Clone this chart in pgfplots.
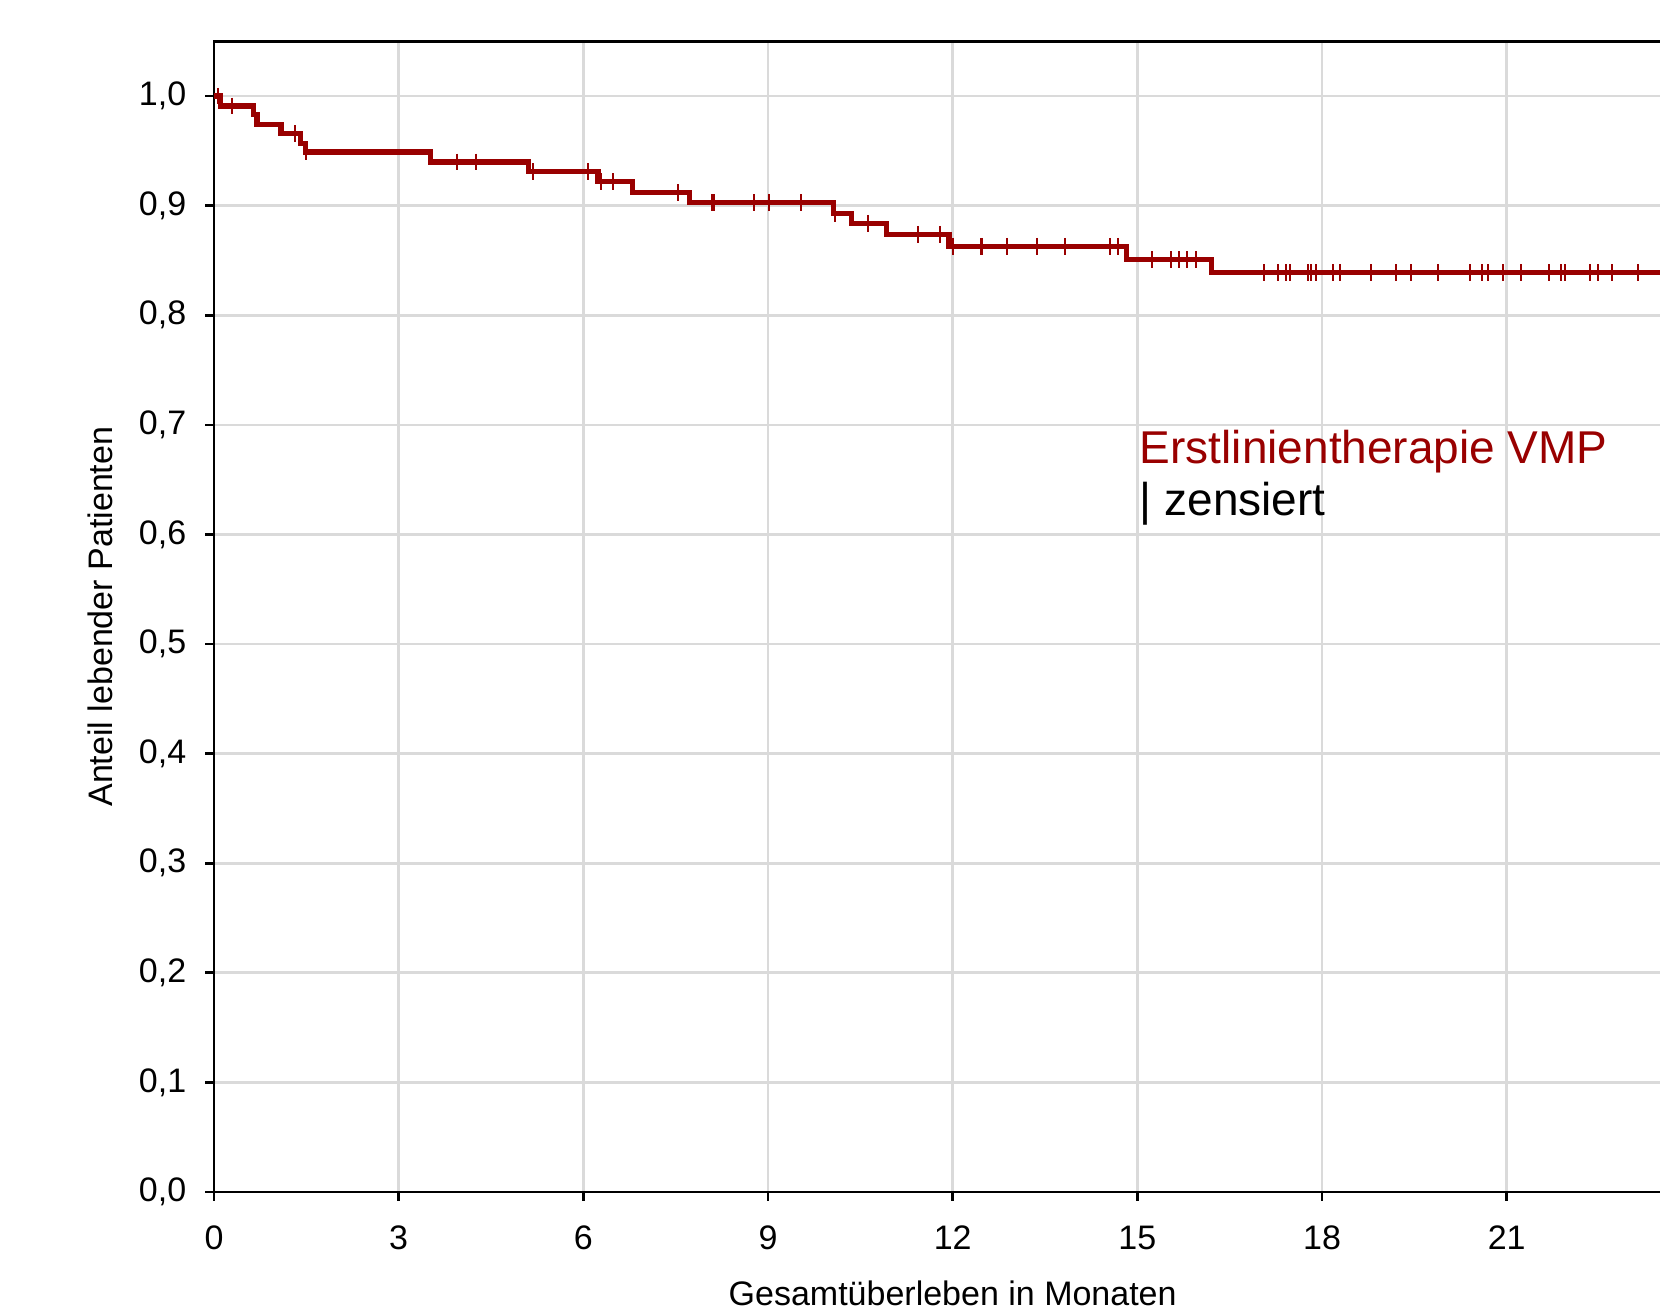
\documentclass[border=0pt]{standalone}
\usepackage{fontspec}
\setmainfont{Liberation Sans}
\usepackage{pgfplots}
\pgfplotsset{compat=1.18}
\definecolor{vmpred}{HTML}{990000}
\definecolor{gridgray}{HTML}{DADADA}

\begin{document}
\begin{tikzpicture}
% page = the visible crop of the original (axis runs on to 24 beyond the right edge)
\useasboundingbox (-64.2pt,-35.7pt) rectangle (433.8pt,357.6pt);
\begin{axis}[
    at={(0,0)}, anchor=south west,
    scale only axis, width=443.2pt, height=345.2pt,
    xmin=0, xmax=24, ymin=0, ymax=1.05,
    xtick={0,3,...,21},
    ytick={0,0.1,...,1.0},
    grid=major, major grid style={gridgray, line width=0.8pt},
    axis line style={black, line width=0.8pt},
    tick style={black, line width=0.8pt},
    tick align=outside, major tick length=2.6pt,
    xtick pos=bottom, ytick pos=left,
    font=\fontsize{10.2}{12}\selectfont,
    /pgf/number format/assume math mode=true,
    yticklabel style={xshift=-2.2pt, /pgf/number format/.cd, use comma, fixed, fixed zerofill, precision=1},
    xticklabel style={yshift=-4.1pt},
    ylabel={Anteil lebender Patienten},
    xlabel={Gesamtüberleben in Monaten},
    every axis x label/.style={at={(axis description cs:0.5,0)}, anchor=base, yshift=-33.9pt},
    every axis y label/.style={at={(axis description cs:0,0.5)}, xshift=-34.1pt, rotate=90, anchor=center},
]
% Kaplan-Meier steps
\addplot[const plot, vmpred, line width=1.6pt] coordinates {
(0,1.000) (0.11,0.991) (0.64,0.983) (0.70,0.974) (1.09,0.966) (1.40,0.957)
(1.49,0.949) (3.52,0.940) (5.11,0.931) (6.24,0.922) (6.80,0.912) (7.73,0.903)
(10.06,0.893) (10.36,0.884) (10.92,0.874) (11.94,0.863) (14.82,0.851)
(16.20,0.839) (24,0.839)
};
% censored
\addplot[only marks, mark=|, mark size=2.5pt, mark options={vmpred, line width=0.6pt}] coordinates {
(0.07,1.000) (0.30,0.991) (1.32,0.966) (1.50,0.949) (3.94,0.940) (4.25,0.940)
(5.19,0.931) (6.08,0.931) (6.28,0.922) (6.48,0.922) (7.53,0.912)
(8.09,0.903) (8.12,0.903) (8.78,0.903) (9.01,0.903) (9.54,0.903)
(10.09,0.893) (10.62,0.884) (11.43,0.874) (11.79,0.874)
(12.00,0.863) (12.46,0.863) (12.48,0.863) (12.88,0.863) (13.37,0.863)
(13.82,0.863) (14.56,0.863) (14.68,0.863)
(15.24,0.851) (15.54,0.851) (15.68,0.851) (15.81,0.851) (15.96,0.851)
(17.06,0.839) (17.28,0.839) (17.41,0.839) (17.48,0.839) (17.78,0.839)
(17.82,0.839) (17.90,0.839) (18.18,0.839) (18.30,0.839) (18.80,0.839)
(19.20,0.839) (19.45,0.839) (19.89,0.839) (20.41,0.839) (20.60,0.839)
(20.70,0.839) (20.94,0.839) (21.24,0.839) (21.69,0.839) (21.88,0.839)
(21.94,0.839) (22.35,0.839) (22.48,0.839) (22.71,0.839) (23.14,0.839)
};
\node[anchor=base west, inner sep=0pt, text=vmpred, font=\fontsize{13.8}{16.5}\selectfont]
  at (axis cs:15.03,0.665) {Erstlinientherapie VMP};
\node[anchor=base west, inner sep=0pt, font=\fontsize{13.8}{16.5}\selectfont]
  at (axis cs:15.03,0.617) {| zensiert};
\end{axis}
\end{tikzpicture}
\end{document}
